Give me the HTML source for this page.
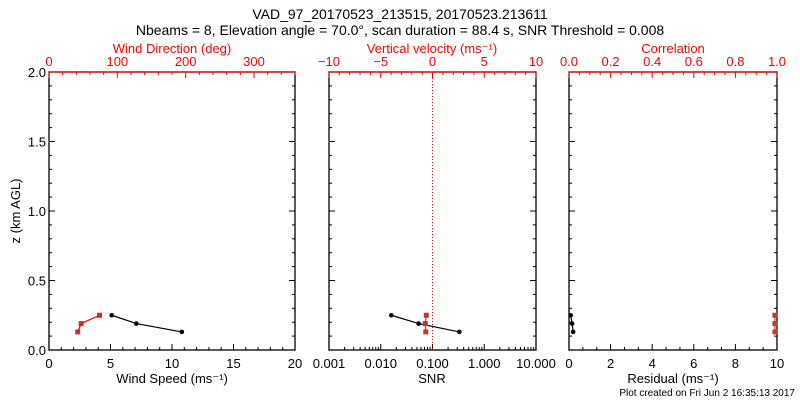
<!DOCTYPE html>
<html><head><meta charset="utf-8"><style>
body{margin:0;background:#fff}
svg{display:block;font-family:"Liberation Sans",sans-serif}
</style></head><body>
<svg id="c" width="800" height="400" viewBox="0 0 800 400">
<text x="400" y="19" text-anchor="middle" font-size="14">VAD_97_20170523_213515, 20170523.213611</text>
<text x="400" y="35" text-anchor="middle" font-size="14">Nbeams = 8, Elevation angle = 70.0°, scan duration = 88.4 s, SNR Threshold = 0.008</text>
<text x="20" y="211" text-anchor="middle" font-size="13" transform="rotate(-90 20 211)">z (km AGL)</text>
<text x="795" y="396" text-anchor="end" font-size="10">Plot created on Fri Jun  2 16:35:13 2017</text>
</svg>
<script>
const heights=[0.25,0.19,0.13];
const windSpeed=[5.1,7.1,10.8];
const windDir=[74,47,42];
const snr=[0.016,0.054,0.33];
const wVel=[-0.6,-0.7,-0.65];
const residual=[0.08,0.15,0.2];
const correlation=[0.99,0.99,0.99];
const yTickLabels=["0.0","0.5","1.0","1.5","2.0"];
const speedTicks=["0","5","10","15","20"];
const dirTicks=["0","100","200","300"];
const velTicks=["−10","−5","0","5","10"];
const snrTicks=["0.001","0.010","0.100","1.000","10.000"];
const corrTicks=["0.0","0.2","0.4","0.6","0.8","1.0"];
const resTicks=["0","2","4","6","8","10"];

const S=document.getElementById('c'),NS='http://www.w3.org/2000/svg';
const Y0=350,Y1=72;
const y=v=>Y0-(v/2)*(Y0-Y1);
function el(t,a,nm,p){const e=document.createElementNS(NS,t);for(const k in a)e.setAttribute(k,a[k]);


(p||S).appendChild(e);return e;}
function txt(x,yy,s,col,nm,anchor,size){const t=el('text',{x:x,y:yy,fill:col,'font-size':size||13,'text-anchor':anchor||'middle'},nm);t.textContent=s;return t;}
function tick(x1,y1,x2,y2,col,nm){el('line',{x1:x1,y1:y1,x2:x2,y2:y2,stroke:col,'stroke-width':1},nm);}

function panel(L,R,name,showYLabels){
  el('rect',{x:L,y:Y1,width:R-L,height:Y0-Y1,fill:'none',stroke:'#000','stroke-width':1.3},name+'-frame');
  for(let i=0;i<=20;i++){const v=i/10,yy=y(v),len=(i%5==0)?6:3;
    tick(L,yy,L+len,yy,'#000',name+'-ytick');tick(R,yy,R-len,yy,'#000',name+'-ytick-right');}
  if(showYLabels)yTickLabels.forEach((s,i)=>txt(L-3,y(i*0.5)+5,s,'#000','y-tick-label','end'));
}
function linAxis(L,R,min,max,minorStep,majorStep,labels,atTop,col,name){
  const f=v=>L+(v-min)/(max-min)*(R-L);
  const yy=atTop?Y1:Y0,d=atTop?1:-1;
  if(atTop)el('line',{x1:L,y1:Y1,x2:R,y2:Y1,stroke:col,'stroke-width':1.3},name+'-line');
  const n=Math.round((max-min)/minorStep);
  for(let i=0;i<=n;i++){const v=min+i*minorStep;const maj=Math.abs((v-min)/majorStep-Math.round((v-min)/majorStep))<1e-6;
    tick(f(v),yy,f(v),yy+d*(maj?6:3),col,name+'-tick');}
  labels.forEach((s,i)=>txt(f(min+i*majorStep),atTop?Y1-6:Y0+18,s,col,name+'-label'));
  return f;
}
function series(xs,ys,fx,col,marker,nm){
  const pts=xs.map((v,i)=>[fx(v),y(ys[i])]);
  el('polyline',{points:pts.map(p=>p.join(',')).join(' '),fill:'none',stroke:col,'stroke-width':1.2},nm+'-line');
  pts.forEach(p=>{if(marker=='sq')el('rect',{x:p[0]-2.5,y:p[1]-2.5,width:5,height:5,fill:col},nm+'-point');
    else el('circle',{cx:p[0],cy:p[1],r:2.3,fill:col},nm+'-point');});
}
const RED='#ff0000',DRED='#c0392b';
// Panel 1
panel(49,295,'wind-panel',true);
const fs=linAxis(49,295,0,20,1,5,speedTicks,false,'#000','wind-speed-axis');
const fd=linAxis(49,295,0,360,20,100,dirTicks,true,RED,'wind-dir-axis');
txt(172,383,'Wind Speed (ms\u207B\u00B9)','#000','wind-speed-title');
txt(172,53,'Wind Direction (deg)',RED,'wind-dir-title');
series(windDir,heights,fd,DRED,'sq','wind-direction-series');
el('polyline',{points:windDir.map((v,i)=>fd(v)+','+y(heights[i])).join(' '),fill:'none',stroke:RED,'stroke-width':1},'wind-direction-overlay');
series(windSpeed,heights,fs,'#000','c','wind-speed-series');
// Panel 2
panel(329,536,'snr-panel',false);
const lg=v=>329+(Math.log10(v)+3)/4*(536-329);
for(let e=-3;e<1;e++)for(let m=1;m<10;m++){const x=lg(m*Math.pow(10,e));tick(x,Y0,x,Y0-(m==1?6:3),'#000','snr-tick');}
tick(536,Y0,536,Y0-6,'#000','snr-tick');
snrTicks.forEach((s,i)=>txt(lg(Math.pow(10,i-3)),Y0+18,s,'#000','snr-label'));
const fv=linAxis(329,536,-10,10,1,5,velTicks,true,RED,'vel-axis');
txt(432,383,'SNR','#000','snr-title');
txt(432,53,'Vertical velocity (ms\u207B\u00B9)',RED,'vel-title');
el('line',{x1:fv(0),y1:Y1,x2:fv(0),y2:Y0,stroke:RED,'stroke-dasharray':'1,2'},'zero-velocity-line');
series(snr,heights,lg,'#000','c','snr-series');
series(wVel,heights,fv,DRED,'sq','velocity-series');
// Panel 3
panel(569,777,'corr-panel',false);
const fr=linAxis(569,777,0,10,2/3,2,resTicks,false,'#000','residual-axis');
const fc=linAxis(569,777,0,1,0.05,0.2,corrTicks,true,RED,'corr-axis');
txt(673,383,'Residual (ms\u207B\u00B9)','#000','residual-title');
txt(673,53,'Correlation',RED,'corr-title');
series(correlation,heights,fc,DRED,'sq','correlation-series');
series(residual,heights,fr,'#000','c','residual-series');
</script>
</body></html>
